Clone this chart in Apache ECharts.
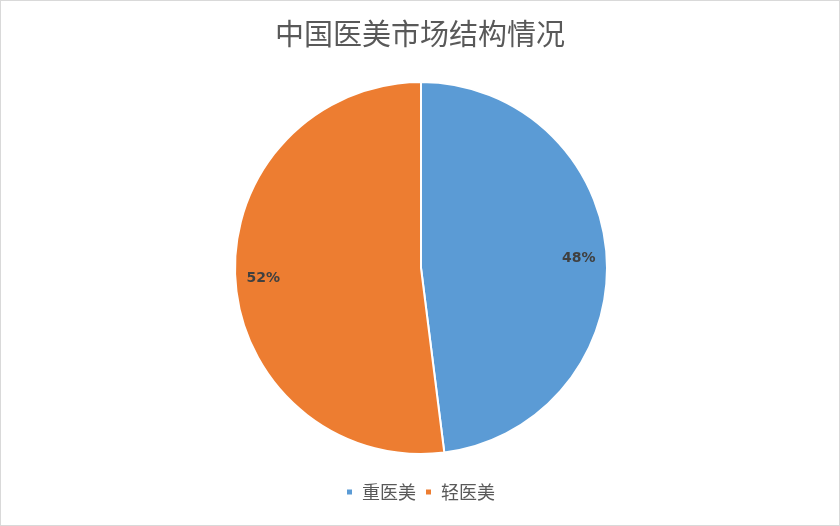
<!DOCTYPE html>
<html>
<head>
<meta charset="utf-8">
<script src="https://cdn.jsdelivr.net/npm/echarts@6/dist/echarts.min.js"></script>
<style>
html,body{margin:0;padding:0;background:#fff;}
#main{width:838px;height:524px;border:1px solid #d9d9d9;}
</style>
</head>
<body>
<div id="main"></div>
<script>
// 数据
var categories = ['重医美', '轻医美'];
var shares = [48, 52];
var colors = ['#5b9bd5', '#ed7d31'];

load_market_pie();

/**
 * 中国医美市场结构圆饼图
 */
function load_market_pie(){
	var chart = echarts.init(document.getElementById('main'));

	var pieData = [];
	for(var i = 0;i<categories.length;i++){
		pieData.push({name: categories[i], value: shares[i], itemStyle: {color: colors[i]}});
	}

	var option = {
		backgroundColor: '#fff',
		animation: false,
		title : {
			text: '中国医美市场结构情况',
			left: 'center',
			top: 13,
			textStyle: {
				fontFamily: 'Noto Sans CJK SC',
				fontSize: 29,
				fontWeight: 'normal',
				color: '#595959'
			}
		},
		legend: {
			bottom: 19,
			left: 'center',
			itemWidth: 7,
			itemHeight: 7,
			itemGap: 8,
			icon: 'rect',
			data: categories,
			textStyle: {
				fontFamily: 'Noto Sans CJK SC',
				fontSize: 18,
				color: '#595959',
				padding: [0, 0, 0, 4]
			}
		},
		series : [
			{
				name: '市场结构',
				type: 'pie',
				radius: [0, 186],
				center: [420, 267],
				startAngle: 90,
				clockwise: true,
				label: {show: false},
				labelLine: {show: false},
				itemStyle: {borderColor: '#fff', borderWidth: 2},
				emphasis: {disabled: true},
				data: pieData
			},
			{
				// 只用来放百分比标签
				name: '标签',
				type: 'pie',
				radius: [124, 186],
				center: [420, 267],
				startAngle: 90,
				clockwise: true,
				silent: true,
				itemStyle: {color: 'transparent', borderWidth: 0},
				label: {
					show: true,
					position: 'inside',
					formatter: '{c}%',
					fontFamily: 'DejaVu Sans',
					fontWeight: 'bold',
					fontSize: 14,
					color: '#404040'
				},
				labelLine: {show: false},
				data: pieData.map(function(d){ return {name: d.name, value: d.value, itemStyle: {color: 'transparent'}}; })
			}
		]
	};

	chart.setOption(option);
}
</script>
</body>
</html>
